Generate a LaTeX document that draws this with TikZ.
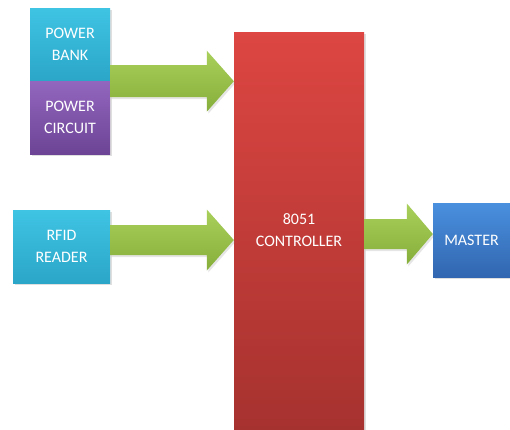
\documentclass[tikz,border=0pt]{standalone}
\usepackage{fontspec}
\setmainfont{Carlito}
\usetikzlibrary{calc,shadows}
\definecolor{cyanT}{HTML}{3FC4E4}
\definecolor{cyanB}{HTML}{2BA6C8}
\definecolor{purT}{HTML}{9266BE}
\definecolor{purB}{HTML}{6C4495}
\definecolor{redT}{HTML}{DD4642}
\definecolor{redB}{HTML}{A6322F}
\definecolor{bluT}{HTML}{4990DE}
\definecolor{bluB}{HTML}{3266B0}
\definecolor{grnT}{HTML}{A8D05A}
\definecolor{grnB}{HTML}{86AE3A}
\tikzset{
  blk/.style={rectangle, inner sep=0pt, align=center, text=white,
    font=\fontsize{16}{22}\selectfont,
    drop shadow={opacity=0.25, shadow xshift=1.5pt, shadow yshift=-2pt}},
  cyanblk/.style={blk, top color=cyanT, bottom color=cyanB},
  purblk/.style={blk, top color=purT, bottom color=purB},
  redblk/.style={blk, top color=redT, bottom color=redB},
  blublk/.style={blk, top color=bluT, bottom color=bluB},
  grnarrow/.style={top color=grnT, bottom color=grnB,
    drop shadow={opacity=0.2, shadow xshift=1.5pt, shadow yshift=-2pt}}
}
% block arrow: start, tip, shaft half, head half, head length
\newcommand{\myblockarrow}[5]{%
  \path[grnarrow] ($(#1)+(0,-#3)$) -- ($(#2)+(-#5,-#3)$) -- ($(#2)+(-#5,-#4)$)
    -- (#2) -- ($(#2)+(-#5,#4)$) -- ($(#2)+(-#5,#3)$) -- ($(#1)+(0,#3)$) -- cycle;}
\begin{document}
\begin{tikzpicture}[x=1pt,y=-1pt]
\useasboundingbox[fill=white] (0,0) rectangle (510,429);
\node[cyanblk, minimum width=80pt, minimum height=73pt] (pb) at (70,44.5) {POWER\\BANK};
\node[purblk, minimum width=80pt, minimum height=73pt] (pc) at (70,117.5) {POWER\\CIRCUIT};
\node[cyanblk, minimum width=97pt, minimum height=73pt] (rfid) at (61.5,246.5) {RFID\\READER};
\node[redblk, minimum width=130pt, minimum height=397pt] (ctrl) at (299,230.5) {8051\\CONTROLLER};
\node[blublk, minimum width=77pt, minimum height=74pt] (master) at (471.5,240) {MASTER};
\coordinate (a1s) at (pb.south east);
\coordinate (a1t) at (ctrl.west |- a1s);
\coordinate (a2s) at ($(rfid.east)+(0,-6.5)$);
\coordinate (a2t) at (ctrl.west |- a2s);
\coordinate (a3s) at ($(ctrl.east |- master.west)+(0,-6)$);
\coordinate (a3t) at (master.west |- a3s);
\myblockarrow{a1s}{a1t}{16}{30.5}{27}
\myblockarrow{a2s}{a2t}{15}{30.5}{27}
\myblockarrow{a3s}{a3t}{15}{30.5}{26}
\end{tikzpicture}
\end{document}
